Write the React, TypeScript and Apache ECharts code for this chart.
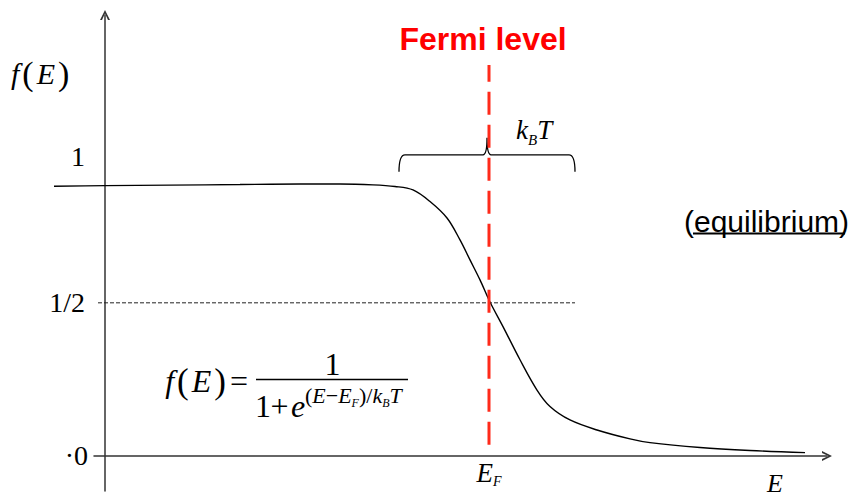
import React, { useEffect, useRef } from "react";
import * as echarts from "echarts";

// Sketched Fermi–Dirac occupancy curve, E in arbitrary units, f(E) on the y scale
const energy = [
  -5.1, 0, 6.5, 13.5, 19.5, 23.5, 26.8, 29, 30.8, 32.5, 34.2, 35.5, 36.5, 37.5,
  38.5, 39.8, 41.5, 43.2, 44.5, 46.5, 49.2, 52.5, 54.5, 59.5, 64.5, 70,
];
const occupancy = [
  0.999, 1.001, 1.003, 1.005, 1.007, 1.007, 1.004, 0.998, 0.985, 0.942, 0.881,
  0.8, 0.726, 0.652, 0.57, 0.479, 0.356, 0.244, 0.183, 0.133, 0.096, 0.063,
  0.049, 0.031, 0.02, 0.012,
];

// Reference levels
const fermiEnergy = 38.4;
const halfLevel = 0.567;
const fermiLineSpan = [0.041, 1.448];
const halfLineSpan = [-0.7, 47];

// kT brace: centre, half width (one kT each side) and its three heights
const braceCenter = 38.2;
const braceHalfWidth = 8.8;
const braceLevels = [1.052, 1.115, 1.178];

// Tick labels on the f(E) axis
const yTickValues = [0, halfLevel, 1];
const yTickLabels = ["{z|·0}", "{h|1/2}", "{u|1}"];

// Axis extents: the drawn axes, and a wider plotting frame (same scale)
// so the curve can start left of the f(E) axis
const axisE = [-1.1, 72.2];
const plotE = [-5.5, 72.2];
const axisF = [-0.13, 1.633];

const SERIF = "'Liberation Serif', 'Times New Roman', serif";
const SANS = "'Liberation Sans', Arial, sans-serif";
const AXIS_COLOR = "#333";
const FERMI_RED = "#ff2a1a";

// open chevron arrow head (pointing up, rotated by the axis)
const CHEVRON = "path://M0,100 L50,0 L100,100 L80,100 L50,36 L20,100 Z";

export default function App() {
  const ref = useRef<HTMLDivElement>(null);

  useEffect(() => {
    if (!ref.current) return;
    const chart = echarts.init(ref.current, null, { renderer: "svg" });

    const curve = energy.map((e, i) => [e, occupancy[i]]);

    const option: any = {
      animation: false,
      backgroundColor: "#fff",
      grid: [
        { left: 94, right: 36, top: 15, bottom: 6, containLabel: false, outerBoundsMode: "none" },
        { left: 50, right: 36, top: 15, bottom: 6, containLabel: false, outerBoundsMode: "none" },
      ],
      xAxis: [
        {
          type: "value",
          gridIndex: 0,
          min: axisE[0],
          max: axisE[1],
          axisLine: {
            onZero: true,
            symbol: ["none", CHEVRON],
            symbolSize: [15, 10],
            lineStyle: { color: AXIS_COLOR, width: 1.5 },
          },
          axisTick: { show: false },
          splitLine: { show: false },
          axisLabel: {
            customValues: [fermiEnergy],
            margin: -34,
            formatter: () => "{i|E}{s|F}",
            rich: {
              i: { fontFamily: SERIF, fontStyle: "italic", fontSize: 27, color: "#000" },
              s: {
                fontFamily: SERIF,
                fontStyle: "italic",
                fontSize: 14,
                color: "#000",
                padding: [17, 0, 0, 0],
              },
            },
          },
        },
        {
          type: "value",
          gridIndex: 1,
          min: plotE[0],
          max: plotE[1],
          show: false,
        },
      ],
      yAxis: [
        {
          type: "value",
          gridIndex: 0,
          min: axisF[0],
          max: axisF[1],
          axisLine: {
            onZero: true,
            symbol: ["none", CHEVRON],
            symbolSize: [15, 10],
            lineStyle: { color: AXIS_COLOR, width: 1.5 },
          },
          axisTick: { show: false },
          splitLine: { show: false },
          axisLabel: {
            customValues: yTickValues,
            margin: 6,
            formatter: (v: number) => yTickLabels[yTickValues.indexOf(v)] ?? "",
            rich: {
              z: { fontFamily: SERIF, fontSize: 28, color: "#000" },
              h: { fontFamily: SERIF, fontSize: 28, color: "#000", padding: [0, 3, 0, 0] },
              u: {
                fontFamily: SERIF,
                fontSize: 28,
                color: "#000",
                padding: [0, 3, 58, 0],
              },
            },
          },
        },
        {
          type: "value",
          gridIndex: 1,
          min: axisF[0],
          max: axisF[1],
          show: false,
        },
      ],
      series: [
        {
          name: "f(E)",
          type: "line",
          xAxisIndex: 1,
          yAxisIndex: 1,
          data: curve,
          smooth: 0.35,
          showSymbol: false,
          clip: false,
          lineStyle: { color: "#000", width: 1.4 },
          z: 3,
        },
        {
          name: "1/2",
          type: "line",
          data: [
            [halfLineSpan[0], halfLevel],
            [halfLineSpan[1], halfLevel],
          ],
          showSymbol: false,
          clip: false,
          lineStyle: { color: "#222", width: 1, type: [4, 2] },
          z: 2,
        },
        {
          name: "Fermi level",
          type: "line",
          data: [
            [fermiEnergy, fermiLineSpan[0]],
            [fermiEnergy, fermiLineSpan[1]],
          ],
          showSymbol: false,
          clip: false,
          lineStyle: { color: FERMI_RED, width: 3, type: [23, 10] },
          z: 4,
        },
        {
          name: "kT",
          type: "custom",
          coordinateSystem: "cartesian2d",
          clip: false,
          data: [[braceCenter, braceHalfWidth]],
          renderItem: (_params: any, api: any) => {
            const c = api.value(0);
            const h = api.value(1);
            const [L, yEnd] = api.coord([c - h, braceLevels[0]]);
            const [C, yLine] = api.coord([c, braceLevels[1]]);
            const [R] = api.coord([c + h, braceLevels[1]]);
            const [, yTip] = api.coord([c, braceLevels[2]]);
            const r = 6;
            const t = 4;
            const d =
              `M${L},${yEnd} Q${L},${yLine} ${L + r},${yLine} ` +
              `L${C - t},${yLine} Q${C},${yLine} ${C},${yTip} ` +
              `Q${C},${yLine} ${C + t},${yLine} ` +
              `L${R - r},${yLine} Q${R},${yLine} ${R},${yEnd}`;
            return {
              type: "path",
              shape: { pathData: d },
              style: { fill: "none", stroke: "#000", lineWidth: 1.3 },
            };
          },
          z: 3,
        },
      ],
      graphic: [
        // axis title f(E)
        {
          type: "text",
          left: 11,
          top: 56,
          style: {
            text: "{i|f}{p|(}{i|E}{p|)}",
            rich: {
              i: { fontFamily: SERIF, fontStyle: "italic", fontSize: 30, fill: "#000", padding: [0, 3, 0, 3] },
              p: { fontFamily: SERIF, fontSize: 34, fill: "#000" },
            },
          },
        },
        // axis title E
        {
          type: "text",
          x: 775,
          y: 483,
          style: {
            text: "E",
            fontFamily: SERIF,
            fontStyle: "italic",
            fontSize: 26,
            fill: "#000",
            align: "center",
            verticalAlign: "middle",
          },
        },
        {
          type: "text",
          x: 483,
          y: 39,
          style: {
            text: "Fermi level",
            fontFamily: SANS,
            fontWeight: "bold",
            fontSize: 32,
            fill: "#ff0000",
            align: "center",
            verticalAlign: "middle",
          },
        },
        {
          type: "text",
          x: 516,
          y: 130,
          style: {
            text: "{i|k}{s|B}{i|T}",
            verticalAlign: "middle",
            rich: {
              i: { fontFamily: SERIF, fontStyle: "italic", fontSize: 27, fill: "#000" },
              s: { fontFamily: SERIF, fontStyle: "italic", fontSize: 15, fill: "#000", padding: [19, 0, 0, 0] },
            },
          },
        },
        {
          type: "text",
          x: 684,
          y: 221,
          style: {
            text: "(equilibrium)",
            fontFamily: SANS,
            fontSize: 30,
            fill: "#000",
            verticalAlign: "middle",
          },
        },
        {
          type: "line",
          shape: { x1: 693, y1: 233.5, x2: 845, y2: 233.5 },
          style: { stroke: "#000", lineWidth: 2 },
        },
        // formula f(E) = 1 / (1 + e^{(E-E_F)/k_B T})
        {
          type: "text",
          x: 248,
          y: 381,
          style: {
            text: "{i|f}{p|(}{i|E}{p|)}{q|=}",
            align: "right",
            verticalAlign: "middle",
            rich: {
              i: { fontFamily: SERIF, fontStyle: "italic", fontSize: 32, fill: "#000", padding: [0, 3, 0, 3] },
              p: { fontFamily: SERIF, fontSize: 35, fill: "#000" },
              q: { fontFamily: SERIF, fontSize: 32, fill: "#000", padding: [0, 0, 0, 4] },
            },
          },
        },
        {
          type: "line",
          shape: { x1: 256, y1: 379.5, x2: 408, y2: 379.5 },
          style: { stroke: "#000", lineWidth: 1.3 },
        },
        {
          type: "text",
          x: 332.5,
          y: 364,
          style: {
            text: "1",
            fontFamily: SERIF,
            fontSize: 32,
            fill: "#000",
            align: "center",
            verticalAlign: "middle",
          },
        },
        {
          type: "text",
          x: 255,
          y: 405.5,
          style: { text: "1", fontFamily: SERIF, fontSize: 32, fill: "#000", verticalAlign: "middle" },
        },
        {
          type: "text",
          x: 279.5,
          y: 405.5,
          style: {
            text: "+",
            fontFamily: SERIF,
            fontSize: 32,
            fill: "#000",
            align: "center",
            verticalAlign: "middle",
          },
        },
        {
          type: "text",
          x: 291,
          y: 405.5,
          style: {
            text: "e",
            fontFamily: SERIF,
            fontStyle: "italic",
            fontSize: 32,
            fill: "#000",
            verticalAlign: "middle",
          },
        },
        {
          type: "text",
          x: 305,
          y: 395,
          style: {
            text: "{n|(}{i|E}{n|−}{i|E}{s|F}{n|)/}{i|k}{s|B}{i|T}",
            verticalAlign: "middle",
            rich: {
              n: { fontFamily: SERIF, fontSize: 22, fill: "#000" },
              i: { fontFamily: SERIF, fontStyle: "italic", fontSize: 22, fill: "#000" },
              s: { fontFamily: SERIF, fontStyle: "italic", fontSize: 12, fill: "#000", padding: [15, 0, 0, 0] },
            },
          },
        },
      ],
    };

    chart.setOption(option);
    return () => chart.dispose();
  }, []);

  return (
    <div
      ref={ref}
      style={{ position: "fixed", left: 0, top: 0, width: 863, height: 497, background: "#fff" }}
    />
  );
}
